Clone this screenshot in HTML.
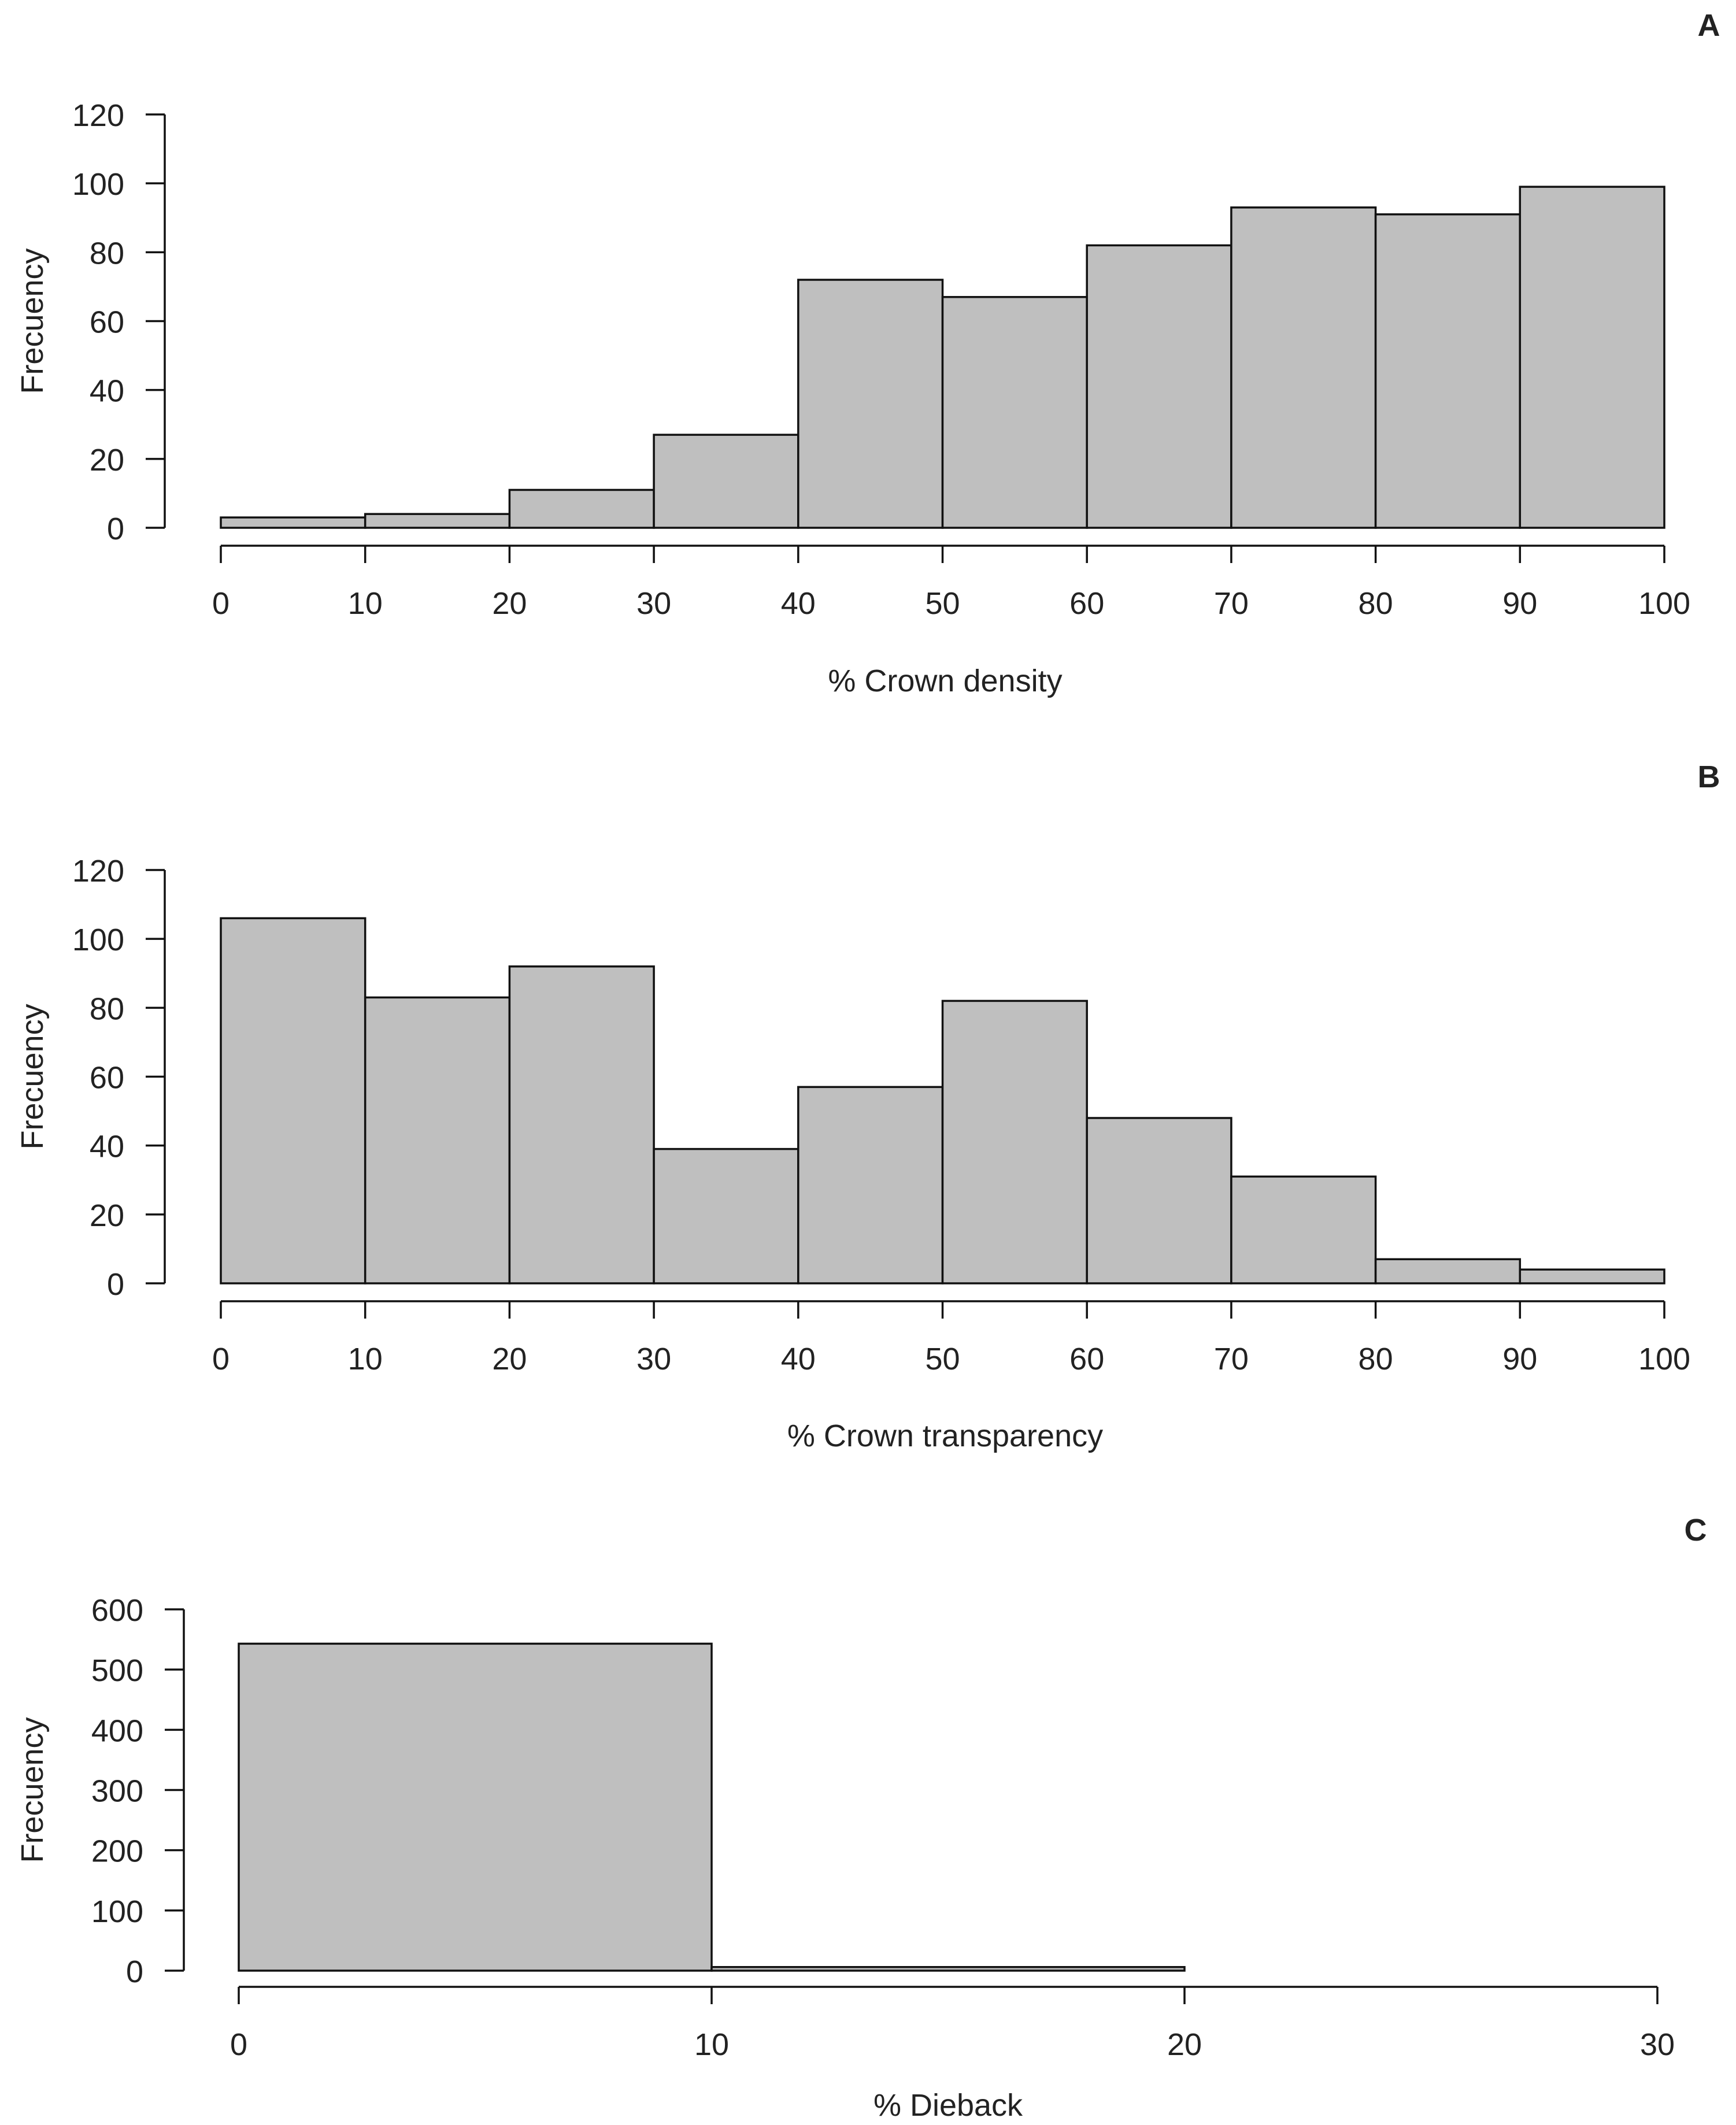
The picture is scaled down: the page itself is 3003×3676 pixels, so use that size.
<!DOCTYPE html>
<html><head><meta charset="utf-8"><style>
body{margin:0;background:#fff}
svg{display:block}
text{font-family:"Liberation Sans",Arial,sans-serif;fill:#222}
</style></head><body>
<svg id="chart" width="3003" height="3676" viewBox="0 0 3003 3676" xmlns="http://www.w3.org/2000/svg"></svg>
<script>
const densityCounts = [3,4,11,27,72,67,82,93,91,99];
const transparencyCounts = [106,83,92,39,57,82,48,31,7,4];
const diebackCounts = [543,6,0];
const ticksA = [0,20,40,60,80,100,120];
const ticksC = [0,100,200,300,400,500,600];
const xTicks100 = [0,10,20,30,40,50,60,70,80,90,100];
const xTicks30 = [0,10,20,30];

const NS="http://www.w3.org/2000/svg";
const svg=document.getElementById('chart');
function el(tag,attrs,parent,txt){const e=document.createElementNS(NS,tag);for(const k in attrs)e.setAttribute(k,attrs[k]);if(txt!==undefined)e.textContent=txt;(parent||svg).appendChild(e);return e;}

function panel(cfg){
  const g=el('g',{});
  
  
  const xs=v=>cfg.x0+(v-cfg.xmin)/(cfg.xmax-cfg.xmin)*(cfg.x1-cfg.x0);
  const ys=v=>cfg.y0-(v/cfg.ymax)*(cfg.y0-cfg.yTop);
  cfg.counts.forEach((c,i)=>{
    if(c<=0)return;
    const a=xs(cfg.xmin+i*cfg.bin), b=xs(cfg.xmin+(i+1)*cfg.bin);
    const r=el('rect',{x:a,y:ys(c),width:b-a,height:ys(0)-ys(c),fill:'#bfbfbf',stroke:'#111','stroke-width':3.5},g);
    
    
  });
  const ya=el('g',{},g);
  
  
  el('line',{x1:cfg.yAxisX,x2:cfg.yAxisX,y1:ys(cfg.yticks[0]),y2:ys(cfg.yticks[cfg.yticks.length-1]),stroke:'#111','stroke-width':3.5},ya);
  cfg.yticks.forEach(t=>{
    el('line',{x1:cfg.yAxisX-33,x2:cfg.yAxisX,y1:ys(t),y2:ys(t),stroke:'#111','stroke-width':3.5},ya);
    const tx=el('text',{x:cfg.yAxisX-70,y:ys(t)+20,'text-anchor':'end','font-size':54},ya,String(t));
    
    
  });
  const xa=el('g',{},g);
  
  
  el('line',{x1:xs(cfg.xticks[0]),x2:xs(cfg.xticks[cfg.xticks.length-1]),y1:cfg.xAxisY,y2:cfg.xAxisY,stroke:'#111','stroke-width':3.5},xa);
  cfg.xticks.forEach(t=>{
    el('line',{x1:xs(t),x2:xs(t),y1:cfg.xAxisY,y2:cfg.xAxisY+30,stroke:'#111','stroke-width':3.5},xa);
    const tx=el('text',{x:xs(t),y:cfg.xAxisY+118,'text-anchor':'middle','font-size':54},xa,String(t));
    
    
  });
  const xt=el('text',{x:cfg.titleX,y:cfg.titleY,'text-anchor':'middle','font-size':54},g,cfg.title);
  
  
  const yc=(ys(0)+ys(cfg.ymax))/2;
  const yt=el('text',{x:0,y:0,'text-anchor':'middle','font-size':54,transform:`translate(${cfg.yTitleX},${yc}) rotate(-90)`},g,'Frecuency');
  
  
  const pl=el('text',{x:cfg.labelX,y:cfg.labelY,'text-anchor':'middle','font-size':54,'font-weight':'bold',fill:'#000'},g,cfg.letter);
  
  
}

panel({name:'panel-a-crown-density',counts:densityCounts,bin:10,xmin:0,xmax:100,x0:382,x1:2879,
  ymax:120,y0:913,yTop:198,yticks:ticksA,xticks:xTicks100,yAxisX:285,xAxisY:944,
  title:'% Crown density',titleX:1635,titleY:1196,yTitleX:74,letter:'A',labelX:2956,labelY:62});
panel({name:'panel-b-crown-transparency',counts:transparencyCounts,bin:10,xmin:0,xmax:100,x0:382,x1:2879,
  ymax:120,y0:2220,yTop:1505,yticks:ticksA,xticks:xTicks100,yAxisX:285,xAxisY:2251,
  title:'% Crown transparency',titleX:1635,titleY:2502,yTitleX:74,letter:'B',labelX:2956,labelY:1362});
panel({name:'panel-c-dieback',counts:diebackCounts,bin:10,xmin:0,xmax:30,x0:413,x1:2867,
  ymax:600,y0:3409,yTop:2784,yticks:ticksC,xticks:xTicks30,yAxisX:318,xAxisY:3437,
  title:'% Dieback',titleX:1640,titleY:3660,yTitleX:74,letter:'C',labelX:2933,labelY:2665});
</script>
</body></html>
